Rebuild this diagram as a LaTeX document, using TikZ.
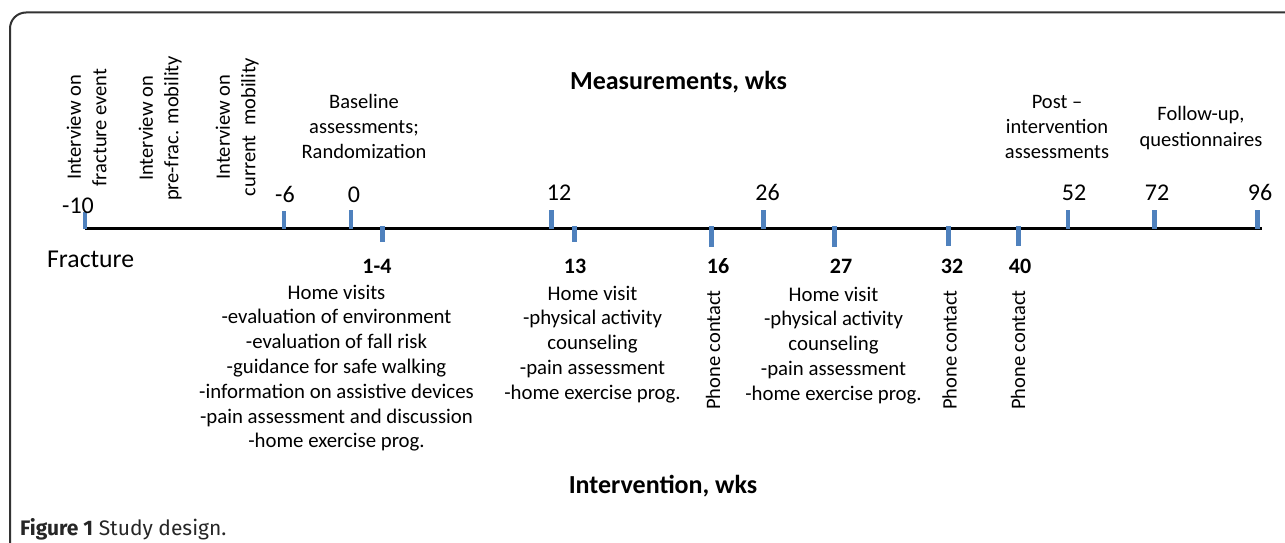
\documentclass[tikz,border=0pt]{standalone}
\usepackage{fontspec}
\setmainfont{Carlito}
\newfontfamily\capfont{Fira Sans}
\definecolor{tickblue}{HTML}{4F81BD}
\definecolor{framegray}{HTML}{333333}
\newcommand\blk[1]{\begin{tabular}[t]{@{}c@{}}#1\end{tabular}}
\begin{document}
\begin{tikzpicture}[x=1pt,y=-1pt,
  tickline/.style={draw=tickblue, line width=4.5pt},
  axisline/.style={line width=3.5pt},
  lbl/.style={font=\fontsize{20.5}{25.5}\selectfont, align=center, inner sep=0pt},
  num/.style={font=\fontsize{24}{28}\selectfont, inner sep=0pt, anchor=base},
  bnum/.style={font=\fontsize{22}{26}\selectfont\bfseries, inner sep=0pt, anchor=base},
  body/.style={font=\fontsize{20.8}{24.8}\selectfont, align=center, inner sep=0pt, anchor=base},
  head/.style={font=\fontsize{26}{30}\selectfont\bfseries, inner sep=0pt, anchor=base},
]
\useasboundingbox (0,0) rectangle (1285,543);
% frame
\draw[framegray, line width=2pt, rounded corners=16pt] (10,570) -- (10,12.5) -- (1310,12.5);
% axis
\coordinate (L) at (85,228.5);
\coordinate (R) at (1262,228.5);
\draw[axisline] (L) -- (R);
% ticks above
\foreach \x/\t in {85/212, 284/211, 351/210, 551.5/210, 763.5/210, 1068/210, 1154.5/210, 1257.5/210}
  \draw[tickline] (\x,228.5) -- (\x,\t);
% ticks below
\foreach \x/\b in {382.5/242, 574.5/242, 711.5/247, 834.5/247, 948.5/246, 1018.5/246}
  \draw[tickline] (\x,226) -- (\x,\b);
% upper numbers
\node[num] (n-10) at (78,213) {-10};
\node[num] (n-6) at (285,202) {-6};
\node[num] (n0) at (354,202) {0};
\node[num] (n12) at (559,200) {12};
\node[num] (n26) at (767.5,200) {26};
\node[num] (n52) at (1074,200) {52};
\node[num] (n72) at (1157,200) {72};
\node[num] (n96) at (1260,200) {96};
% lower numbers
\node[bnum] (b14) at (377,273) {1-4};
\node[bnum] (b13) at (575,273) {13};
\node[bnum] (b16) at (718,273) {16};
\node[bnum] (b27) at (841,273) {27};
\node[bnum] (b32) at (952,273) {32};
\node[bnum] (b40) at (1020,273) {40};
% titles
\node[head] (meas) at (678.5,89) {Measurements, wks};
\node[head] (interv) at (663,493) {Intervention, wks};
% upper labels
\node[lbl, anchor=base] (baseline) at (364,108) {\blk{Baseline\\assessments;\\Randomization}};
\node[lbl, anchor=base] (post) at (1057,108) {\blk{Post –\\intervention\\assessments}};
\node[lbl, anchor=base] (follow) at (1201,121) {\blk{Follow-up,\\questionnaires}};
\node[lbl, rotate=90] (iv1) at (88.4,127.5) {\blk{Interview on\\fracture event}};
\node[lbl, rotate=90] (iv2) at (160.4,128.5) {\blk{Interview on\\pre-frac. mobility}};
\node[lbl, rotate=90] (iv3) at (237.4,127) {\blk{Interview on\\current\ \ mobility}};
% fracture
\node[font=\fontsize{25.7}{30}\selectfont, anchor=base west, inner sep=0pt] (frac) at (47,267) {Fracture};
% lower blocks
\node[body] (hv1) at (336.5,299) {\blk{Home visits\\-evaluation of environment\\-evaluation of fall risk\\-guidance for safe walking\\-information on assistive devices\\-pain assessment and discussion\\-home exercise prog.}};
\node[body] (hv13) at (592.5,300) {\blk{Home visit\\-physical activity\\counseling\\-pain assessment\\-home exercise prog.}};
\node[body] (hv27) at (833.5,301) {\blk{Home visit\\-physical activity\\counseling\\-pain assessment\\-home exercise prog.}};
\node[lbl, rotate=90] (ph16) at (713,350) {Phone contact};
\node[lbl, rotate=90] (ph32) at (949.5,350) {Phone contact};
\node[lbl, rotate=90] (ph40) at (1018,350) {Phone contact};
% caption
\node[anchor=base west, inner sep=0pt, font=\capfont\fontsize{21}{24}\selectfont, text=black!85] (cap) at (20,535) {\textbf{Figure 1} Study design.};
\end{tikzpicture}
\end{document}
